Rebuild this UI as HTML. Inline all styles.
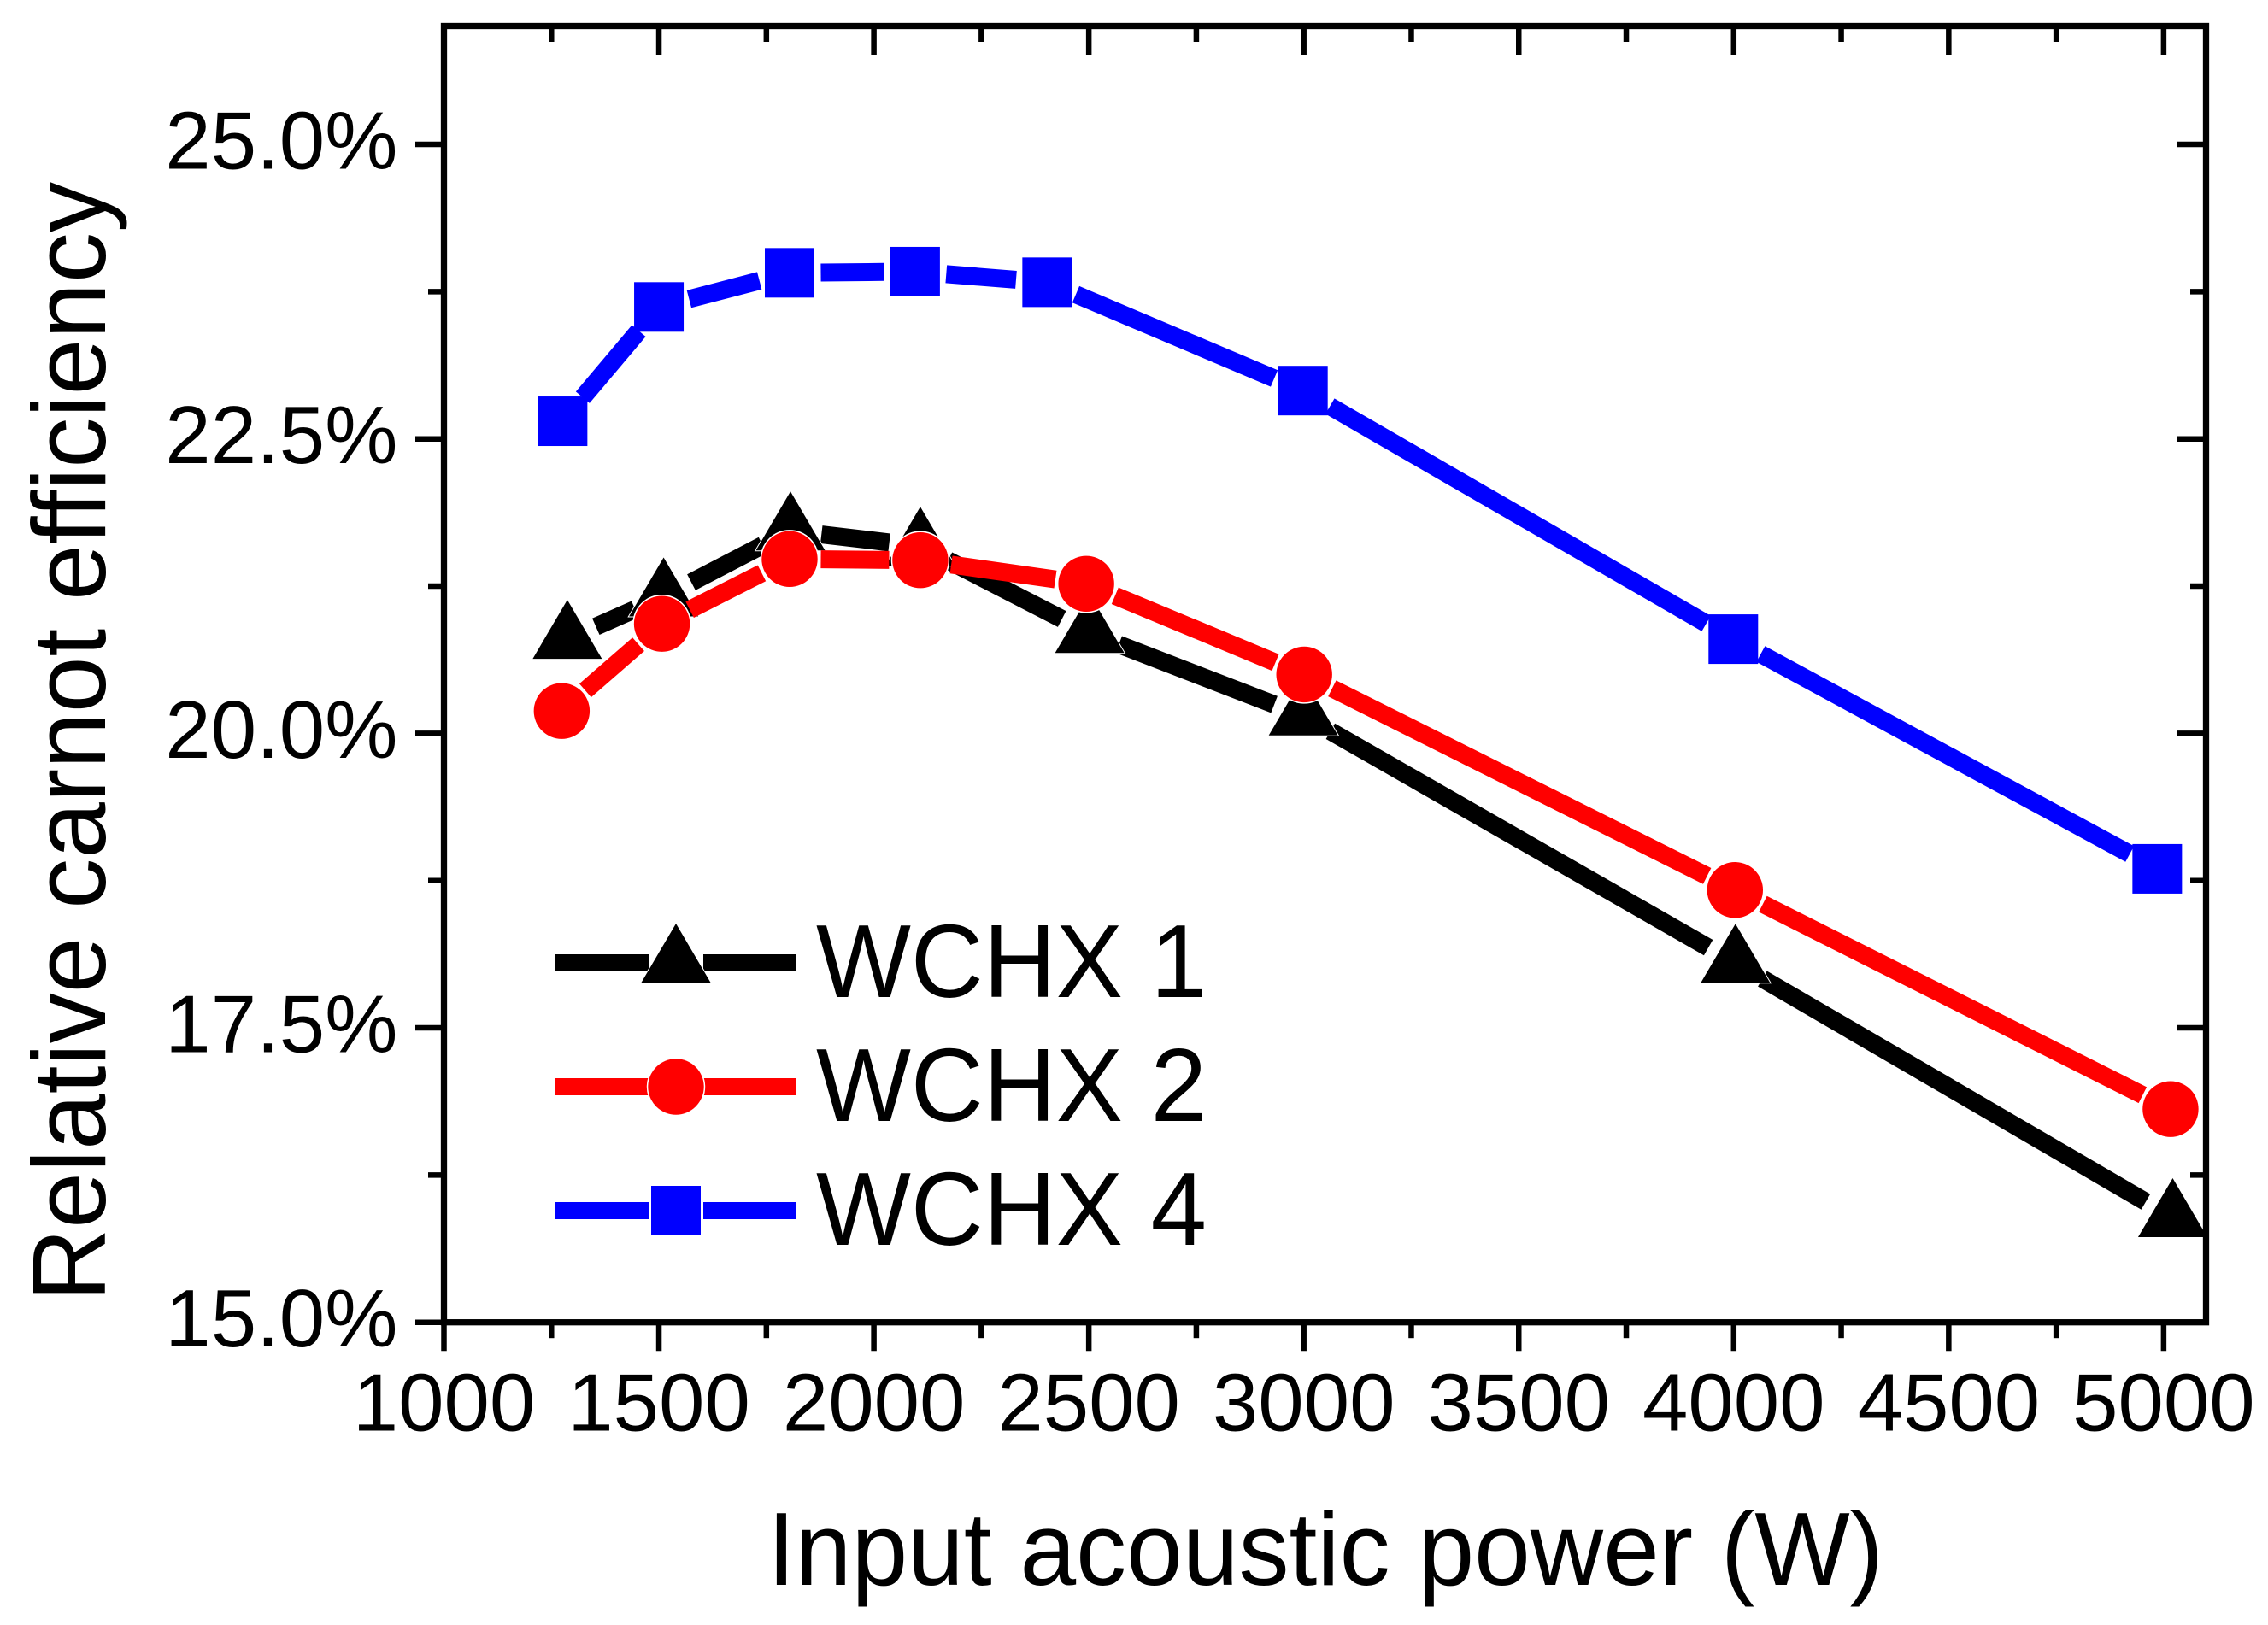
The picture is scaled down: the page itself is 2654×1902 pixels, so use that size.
<!DOCTYPE html>
<html lang="en">
<head>
<meta charset="utf-8">
<title>Relative carnot efficiency vs input acoustic power</title>
<style>
html,body{margin:0;padding:0;background:#fff;}
svg{display:block;}
text{font-family:"Liberation Sans",Arial,sans-serif;fill:#000;}
</style>
</head>
<body>
<svg id="chart" xmlns="http://www.w3.org/2000/svg" width="2654" height="1902" viewBox="0 0 2654 1902">
  <rect x="0" y="0" width="2654" height="1902" fill="#fff"/>
  <g id="series-layer"></g>
  <g id="axis-layer"></g>
  <text x="898" y="1855" font-size="122" textLength="1306" lengthAdjust="spacingAndGlyphs">Input acoustic power (W)</text>
  <text transform="translate(123,1523) rotate(-90)" font-size="122" textLength="1310" lengthAdjust="spacingAndGlyphs">Relative carnot efficiency</text>
  <g id="legend-layer"></g>
</svg>
<script>
// Chart data
const xTickLabels = [1000, 1500, 2000, 2500, 3000, 3500, 4000, 4500, 5000];
const xMinorTicks = [1250, 1750, 2250, 2750, 3250, 3750, 4250, 4750];
const yTickLabels = [15.0, 17.5, 20.0, 22.5, 25.0];
const yMinorTicks = [16.25, 18.75, 21.25, 23.75];

const wchx1X = [1287, 1511, 1806, 2108, 2502, 2999, 4004, 5021];
const wchx1Y = [20.80, 21.16, 21.72, 21.59, 20.85, 20.15, 18.05, 15.89];
const wchx2X = [1274, 1507, 1804, 2108, 2494, 3001, 4003, 5016];
const wchx2Y = [20.19, 20.93, 21.48, 21.47, 21.27, 20.50, 18.67, 16.81];
const wchx4X = [1276, 1500, 1804, 2096, 2403, 2998, 3999, 4985];
const wchx4Y = [22.65, 23.62, 23.91, 23.92, 23.83, 22.91, 20.80, 18.85];

const seriesNames = ["WCHX 1", "WCHX 2", "WCHX 4"];

// Axis functions
const plot = {left: 519.5, right: 2581.5, top: 30.5, bottom: 1547.7};
const xMin = 1000, xMax = 5098.6, yMin = 15, yMax = 26.005;
function xScale(v) { return plot.left + (v - xMin) / (xMax - xMin) * (plot.right - plot.left); }
function yScale(v) { return plot.bottom - (v - yMin) / (yMax - yMin) * (plot.bottom - plot.top); }

const NS = "http://www.w3.org/2000/svg";
function make(tag, attrs, parent) {
  const el = document.createElementNS(NS, tag);
  for (const k in attrs) el.setAttribute(k, attrs[k]);
  parent.appendChild(el);
  return el;
}
const axisLayer = document.getElementById("axis-layer");
const seriesLayer = document.getElementById("series-layer");
const legendLayer = document.getElementById("legend-layer");

// Frame
const frame = make("rect", {x: plot.left, y: plot.top, width: plot.right - plot.left, height: plot.bottom - plot.top, fill: "none", stroke: "#000", "stroke-width": 7.3}, axisLayer);



function xTick(v, len) {
  const x = xScale(v);
  const bottom = make("line", {x1: x, x2: x, y1: plot.bottom, y2: plot.bottom + len, stroke: "#000", "stroke-width": 6.5}, axisLayer);
  
  
  const top = make("line", {x1: x, x2: x, y1: plot.top, y2: plot.top + len, stroke: "#000", "stroke-width": 6.5}, axisLayer);
  
  
}
function yTick(v, len) {
  const y = yScale(v);
  const left = make("line", {x1: plot.left, x2: plot.left - len, y1: y, y2: y, stroke: "#000", "stroke-width": 6.5}, axisLayer);
  
  
  const right = make("line", {x1: plot.right, x2: plot.right - len, y1: y, y2: y, stroke: "#000", "stroke-width": 6.5}, axisLayer);
  
  
}
xTickLabels.forEach(function (v) {
  xTick(v, 33.5);
  const t = make("text", {x: xScale(v), y: 1674.5, "font-size": 96, "text-anchor": "middle"}, axisLayer);
  t.textContent = String(v);
  
  
});
xMinorTicks.forEach(function (v) { xTick(v, 18.5); });
yTickLabels.forEach(function (v) {
  yTick(v, 33.5);
  const t = make("text", {x: 465.5, y: yScale(v) + 28.5, "font-size": 96, "text-anchor": "end"}, axisLayer);
  t.textContent = v.toFixed(1) + "%";
  
  
});
yMinorTicks.forEach(function (v) { yTick(v, 18.5); });

// Markers
function triangle(cx, cy, color, parent) {
  return make("polygon", {points: (cx - 40.5) + "," + (cy + 23) + " " + (cx + 40.5) + "," + (cy + 23) + " " + cx + "," + (cy - 46), fill: color, stroke: "#fff", "stroke-width": 2, "paint-order": "stroke"}, parent);
}
function circle(cx, cy, color, parent) {
  return make("circle", {cx: cx, cy: cy, r: 32.7, fill: color, stroke: "#fff", "stroke-width": 3, "paint-order": "stroke"}, parent);
}
function square(cx, cy, color, parent) {
  return make("rect", {x: cx - 29, y: cy - 29, width: 58, height: 58, fill: color}, parent);
}

// Series: each line segment stops short of the markers, leaving a gap
const lineGap = 36.5;
function drawSeries(xs, ys, color, marker, name) {
  const group = make("g", {}, seriesLayer);
  
  
  for (let i = 0; i < xs.length - 1; i++) {
    const x1 = xScale(xs[i]), y1 = yScale(ys[i]), x2 = xScale(xs[i + 1]), y2 = yScale(ys[i + 1]);
    const d = Math.hypot(x2 - x1, y2 - y1);
    const ux = (x2 - x1) / d, uy = (y2 - y1) / d;
    const seg = make("line", {x1: x1 + ux * lineGap, y1: y1 + uy * lineGap, x2: x2 - ux * lineGap, y2: y2 - uy * lineGap, stroke: color, "stroke-width": 21}, group);
    
    
  }
  for (let i = 0; i < xs.length; i++) {
    const m = marker(xScale(xs[i]), yScale(ys[i]), color, group);
    
    
  }
}
drawSeries(wchx1X, wchx1Y, "#000000", triangle, "series-wchx-1");
drawSeries(wchx2X, wchx2Y, "#ff0000", circle, "series-wchx-2");
drawSeries(wchx4X, wchx4Y, "#0000ff", square, "series-wchx-4");

// Legend
function legendEntry(label, color, marker, lineY, baseY) {
  const g = make("g", {}, legendLayer);
  
  
  const a = make("line", {x1: 649, x2: 759, y1: lineY, y2: lineY, stroke: color, "stroke-width": 20}, g);
  
  
  const b = make("line", {x1: 823, x2: 932, y1: lineY, y2: lineY, stroke: color, "stroke-width": 20}, g);
  
  
  const m = marker(791, lineY, color, g);
  
  
  const t = make("text", {x: 955, y: baseY, "font-size": 122, textLength: 457, lengthAdjust: "spacingAndGlyphs"}, g);
  t.textContent = label;
  
  
}
legendEntry(seriesNames[0], "#000000", triangle, 1127, 1167);
legendEntry(seriesNames[1], "#ff0000", circle, 1272, 1312);
legendEntry(seriesNames[2], "#0000ff", square, 1417, 1457);
</script>
</body>
</html>
